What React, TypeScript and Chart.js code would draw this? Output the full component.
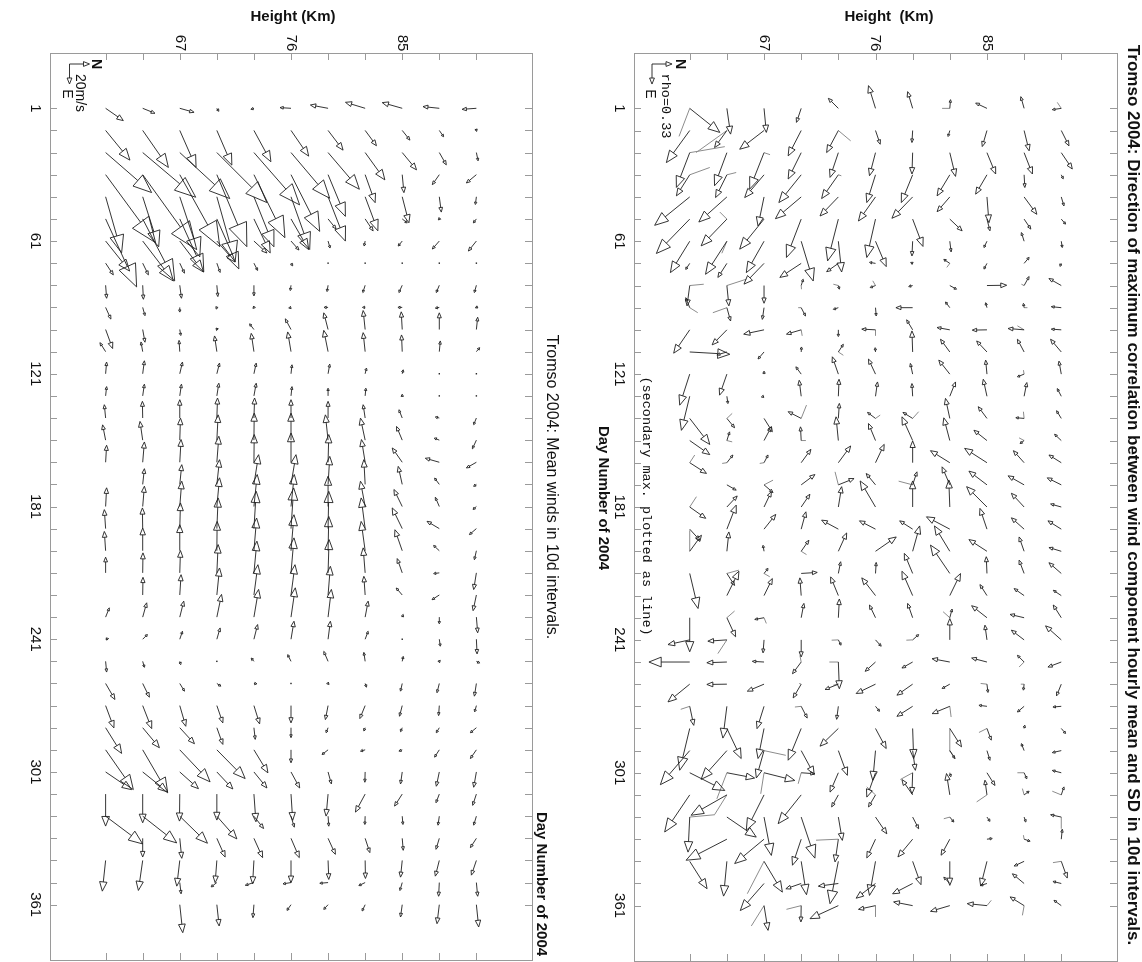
import React, { useEffect, useRef } from "react";
import { Chart, registerables } from "chart.js";
Chart.register(...registerables);

// ---------- axes ----------
const DAYS = [1, 11, 21, 31, 41, 51, 61, 71, 81, 91, 101, 111, 121, 131, 141, 151, 161, 171, 181, 191, 201, 211, 221, 231, 241, 251, 261, 271, 281, 291, 301, 311, 321, 331, 341, 351, 361];
const HEIGHTS = [61, 64, 67, 70, 73, 76, 79, 82, 85, 88, 91];
const HEIGHT_LABELS = [67, 76, 85];
const DAY_LABELS = [1, 61, 121, 181, 241, 301, 361];
const HEIGHT_RANGE = [56.5, 95.5];
const DAY_RANGE = [-24, 386];

// ---------- left panel: mean wind [north, east] (m/s) per day row, per height ----------
type V = [number, number] | null;
const MEAN_WIND: V[][] = [
  [[17.7, 12.3], [12.3, 5], [14.3, 4], [2, 3], [-3, 1], [-11, -0.7], [-17.7, -3.3], [-19.7, -6], [-20, -5.7], [-16.3, -1.7], [-14.3, 1]],
  [[24.3, 29.7], [25.7, 37], [16.3, 37], [15, 34.7], [17, 31.3], [17.7, 25.7], [15, 19.7], [11.3, 15.3], [7.7, 9.7], [4.3, 6.3], [0.3, 1]],
  [[46, 40], [53, 44.7], [50, 46], [50, 50], [45.7, 52.3], [38.7, 45.7], [31.3, 36.7], [19.7, 27.3], [14.3, 17.3], [7, 12.3], [1.7, 8.3]],
  [[50, 68], [54, 75], [40, 72], [30, 72], [31, 63], [28.7, 56.7], [17.3, 41.7], [10, 28], [1.7, 18], [-7, 10], [-10, 8.3]],
  [[16, 56], [16, 50], [20, 60], [18.3, 65], [20, 50], [18.7, 52.7], [17.3, 44.3], [12.7, 34], [6.7, 26], [2, 15.3], [-1, 7.7]],
  [[31, 68], [32, 62], [24, 53], [22, 50], [16.3, 34], [17.7, 30.7], [8, 10], [8, 12], [5, 4], [-1, 1], [-3, 4]],
  [[24, 30], [30.7, 40], [23.7, 31], [18.3, 21], [13, 12], [8, 9], [2, 7], [-1, 5], [-4, 5], [-7, 8], [-8, 10]],
  [[7.7, 11.7], [5.7, 11.7], [4.7, 10], [3.3, 9.3], [3.7, 7.3], [1.7, 2.7], [0.5, 0.7], [0.3, 0.5], [0.3, 0.3], [0.3, 0.3], [0.3, 0.3]],
  [[1, 13], [0.7, 14], [1.7, 13], [1, 11.3], [0, 10.7], [-0.7, 5.3], [-1, 6.3], [-2.3, 7.3], [-3.3, 7.3], [-3, 7.3], [-2, 7.3]],
  [[5.3, 11.7], [2.3, 8.3], [0, 4.7], [-0.7, 1.7], [-1, 1], [-2.3, 0.7], [-4, 0], [-2.7, 0], [-4.3, 0], [-4, 0.7], [-1, 0.5]],
  [[7, 19], [2.3, 12.7], [1, 6], [-0.3, 1], [-4.3, -5.7], [-5.7, -10.7], [-4.3, -16.7], [-2, -19], [-1, -17.7], [0, -16.7], [1.3, -12.3]],
  [[-5.7, -9], [-1.7, -9.7], [-0.7, -11.3], [-2.3, -15.7], [-2.7, -18.3], [-3.3, -19.7], [-4.3, -21.3], [-2, -19], [-0.7, -16.7], [1, -10.7], [3.3, -4]],
  [[1, -11.7], [1.7, -13], [2.7, -11.7], [2.7, -10.7], [2.3, -10.7], [1, -9], [1.7, -9.7], [1.3, -5.7], [1, -4], [0.5, -0.5], [0.5, -0.3]],
  [[1, -9.3], [1.7, -11.7], [1.7, -11.7], [2, -12.7], [2.3, -12.7], [1, -9.3], [0, -7.7], [0.7, -7.7], [0, -1.7], [0.3, -0.5], [0.3, 0.3]],
  [[-1.3, -13.3], [-0.3, -16.7], [0, -18.3], [0.7, -20], [0.7, -20], [0, -18.3], [0, -16.7], [-2, -13.3], [-3.3, -8.3], [-4, -1], [-2.7, 6.7]],
  [[-3, -15.3], [-2.7, -18.7], [0.7, -22], [1.3, -25.3], [0.3, -27], [0, -27], [-2.7, -25.3], [-4.7, -22], [-5.7, -13.7], [-5, -2], [-4, 8.7]],
  [[1, -17], [1.7, -20.3], [1.3, -22.7], [2, -26], [0.3, -27.7], [0, -29.3], [0.7, -27.7], [-3.7, -22.7], [-10, -14.3], [-14, -4], [-10, 5.7]],
  [null, [1.7, -15.7], [2, -19.7], [2.7, -24.7], [4.7, -29.7], [5, -29.7], [1.7, -28], [-1.3, -24.7], [-4, -18], [-4.7, -6.3], [-2.7, 2]],
  [[1, -18.7], [1.7, -20.3], [2, -25.3], [2.7, -28.7], [3.3, -32], [3.3, -32], [0, -30.3], [-4.7, -25.3], [-8.3, -17], [-4, -9.3], [-3.3, 3]],
  [[-1.3, -19], [-0.3, -20.7], [0.7, -25.7], [1.3, -30.7], [2.3, -37.3], [2.7, -40.7], [0.7, -37.3], [-4, -30.7], [-10, -20.7], [-12.3, -7.3], [-7, 6]],
  [[-1.3, -19.3], [0, -22.7], [0, -26], [0.3, -29.3], [2.7, -32.7], [3, -36], [0.7, -34.3], [-4, -29.3], [-7.3, -21], [-5.7, -5.3], [-2, 9]],
  [[0, -15.7], [0.3, -20], [0.7, -22.3], [1.3, -28.3], [3, -31.7], [3, -35], [1, -33.3], [-2, -25], [-5, -14.3], [-5.7, 0.7], [-2.7, 16.7]],
  [null, [0.3, -17.7], [1.3, -20.3], [2.7, -27], [4, -30.3], [4, -30.3], [2.3, -28.7], [-1.3, -18.7], [-6, -7], [-7.3, 4.7], [-3.3, 15.7]],
  [[3.7, -9.3], [4, -14.3], [4, -16], [4.7, -22.7], [4.7, -27.7], [4.3, -29.3], [3.3, -27.7], [3, -16], [1, -2.7], [0, 6.7], [1.3, 15.7]],
  [[3, -0.7], [4.7, -4.7], [2.7, -8], [3.3, -11.3], [3.7, -14.7], [3, -18], [2.3, -18], [3, -8], [0.3, -0.5], [1, 7], [0.7, 14.7]],
  [[1, 10.7], [1.7, 6], [1, 3.3], [-0.3, 0.7], [-2.7, -3.3], [-3.3, -6.7], [-4.3, -10], [-1.3, -9], [1, -5], [1, -1], [3.3, 1.7]],
  [[9.3, 16], [6.7, 13.7], [4.7, 7.7], [4, 2.7], [3, 0.3], [0.3, 0.3], [1, 1], [1.3, 3.7], [-1.7, 7.7], [-2.3, 9.3], [-2, 12.7]],
  [[8.3, 22.3], [9, 23], [6, 20.7], [6, 17.3], [5.7, 18.3], [0, 17.3], [-2.7, 14], [-5.3, 13], [-2.7, 10.7], [-0.7, 10], [-1.7, 6.3]],
  [[16, 25.7], [16.7, 20], [14.7, 16], [6, 16.7], [1.3, 11.7], [0, 10], [-2, 5], [-1.3, 3.3], [-1.7, 4], [-3, 5], [-6, 5]],
  [[27.7, 39.7], [25, 43], [30.3, 32], [28.3, 28.7], [14, 23], [0, 13], [-6, 4.7], [-4.7, 1.3], [-3.3, 1.3], [-4.7, 7.3], [-6, 8.7]],
  [[26, 17.7], [25, 20], [18.7, 16.7], [16, 17], [13, 16], [8.7, 16], [3.3, 12], [-0.3, 10.3], [-1.7, 12], [-3, 14.3], [-2.7, 15.3]],
  [[0, 32], [0, 28.7], [-0.3, 27], [0, 26], [2, 27.7], [1.7, 26.3], [-2, 22], [-9.7, 18], [-7.7, 12], [-3.3, 8.7], [-3.7, 11.3]],
  [[37, 27.7], [34, 26.7], [27.7, 27], [20, 22.7], [9.7, 12.3], [3.3, 11], [0.7, 10], [-0.3, 8.3], [0.7, 8.3], [-1.3, 9], [-2.7, 9]],
  [null, [0, 18.7], [2, 20], [8.3, 18.7], [8.7, 19.3], [8.3, 19.3], [7.3, 16], [4.7, 14.3], [1, 12], [-3.3, 11], [-6, 9.3]],
  [[-3.3, 30.7], [-4.3, 30], [-3, 25.7], [-1.7, 22.3], [-1.3, 23.3], [0, 22.3], [0.7, 19], [0.3, 18], [-1.7, 16.7], [-4, 15.7], [-5, 14.7]],
  [null, null, [1.3, 11.3], [-5.7, 4.3], [-8.7, 2.7], [-8, 1.3], [-8.3, 0.7], [-6.3, 3], [-2.3, 8], [-0.7, 13.7], [1.3, 13.7]],
  [null, null, [3, 28], [2.3, 21.3], [-1, 13], [-4, 5.7], [-4.3, 4.7], [-3, 6.3], [-1.7, 12.3], [-2.3, 19], [2.3, 22.3]],
];

// ---------- right panel: direction of max correlation [north, east] (scaled rho) ----------
const CORR_MAX: V[][] = [
  [[30, 24], [3.7, 25.7], [2.3, 24], [-4.7, 14], [-10, -10], [-7, -22.7], [-5, -16.7], [0.7, -8.7], [-11.3, -5.3], [-3.3, -11.7], [-9, 1.3]],
  [[-23.3, 32], [-12.3, 17], [-24.3, 18.7], [-13, 25.3], [-11.7, 22], [4.7, 13.7], [-0.7, 12], [-1.7, 6], [-4.7, 16], [5, 20.3], [7.7, 15.3]],
  [[-13.3, 34.7], [-12.3, 33], [-14.3, 36.3], [-13, 26.3], [-8.3, 24.7], [-6, 23], [-0.7, 21.3], [5.7, 23.7], [8.7, 21.3], [8.3, 21.3], [11, 16.3]],
  [[-13.3, 21], [-11.3, 22.7], [-19.3, 22.7], [-22.3, 27.7], [-16.7, 23.7], [-8.7, 27.7], [-11.3, 27.7], [-12.7, 21], [-11.3, 19.3], [0.7, 12.7], [2, 4]],
  [[-35, 28.3], [-28, 25], [-6, 29], [-25.7, 21.7], [-18.3, 19], [-17, 24], [-20.7, 21.3], [-12.7, 14.7], [2, 25.7], [12.7, 17.3], [2.7, 9]],
  [[-33.3, 34.3], [-25.7, 26.7], [-24.3, 30], [-14.7, 38.3], [-10.7, 41.7], [-8.7, 38.3], [10.3, 27.3], [12.3, 11.7], [3, 11.7], [6.7, 10], [4.3, 5]],
  [[-19.3, 31.3], [-21.3, 33], [-17.7, 31.3], [12, 39.7], [3.3, 30.7], [10.7, 25.3], [-0.7, 14.7], [1.3, 10.7], [-3, 6.3], [-2.7, -8.7], [1, 6.3]],
  [[-4, 6], [-9, 14], [-20, 20.7], [-21.3, 14], [-11.7, 8.3], [-6, -1], [-2, -1], [-6, -4], [-3, 5.7], [5, -6], [-1.3, 3]],
  [[-2.7, 20.3], [2, 20.3], [0, 17.7], [2, -6.3], [1, 3.7], [-5.3, 2], [-4, 1], [6.7, 3.7], [19.7, -0.3], [5, -9], [-12.3, -7]],
  [[-4, -10], [3.7, 13.3], [-1.7, 11.7], [4.3, 8.3], [-5, 1.7], [0.7, 8.3], [-16.7, 0], [-4.3, -5.7], [-1.3, -5], [-0.7, -4.3], [-10, -1]],
  [[-16, 23.3], [-14.7, 15], [-20.3, 4.3], [-14.7, 4.3], [0, 6.7], [-13.7, -0.7], [-6, -10], [-12.7, -2.3], [-14.7, 0.3], [-16, -1.3], [-10, -0.7]],
  [[40, 2.3], [-10, 3], [-6, 7], [0.3, -5], [5, -7.7], [-0.3, -4.3], [-0.7, -21], [-9.3, -12.7], [-10.3, -11], [-6.7, -12.7], [-10.7, -12.7]],
  [[-10, 31], [-7.3, 21], [0, -3], [-5.3, -7.3], [-6, -17.3], [-7, -15], [-2.3, -10.7], [-11, -14], [-1.3, -14], [-6.7, 2.7], [-2.3, -13]],
  [[-8.3, 34], [1, 7.3], [-2.7, 0.7], [-2, -16], [0.7, -17], [2, -14.3], [-0.7, -12.7], [5.7, -14.3], [-3.7, -17], [2.7, -13.7], [-4, -7.7]],
  [[20, 26], [7.7, 9.3], [8.3, 13.3], [-13, -6.7], [1, -15], [-8, -6], [-9.7, -6], [-4.3, -20], [-8.7, -11.7], [-8.3, -0.7], [-4.7, -7.7]],
  [[20, 14], [2.7, -8.7], [7.3, -13.7], [-0.7, -13.7], [-2.3, -23.7], [-7, -17], [-10.7, -23.7], [-6, -22.7], [-13, -10.3], [-4, 3], [-6.7, -6.3]],
  [[16.7, 10.7], [6, -7.7], [4, -7.7], [9.7, -13.3], [12.3, -16.7], [8.7, -18.3], [0, -21.7], [-19.3, -12], [-22.3, -14.3], [-10.7, -12], [-12.3, -7.7]],
  [null, [9.3, 5.3], [9, 7.7], [13.7, -10.3], [15.7, -6.3], [-9.3, -11.3], [4.3, -13], [-7.7, -18], [-18, -13.7], [-16, -9], [-14, -7]],
  [[16, 11.3], [10.3, -11], [7.3, -15.3], [8.7, -12.7], [3.3, -20.3], [-15.3, -26], [0, -26], [-1, -27], [-20.3, -20.3], [-12.7, -13.7], [-10.7, -3]],
  [[10, 11], [9.3, -24], [11.7, -14.7], [4.7, -17.3], [-16.7, -9], [-16, -8.3], [-13, -8.3], [-23.3, -12.3], [-7, -20.7], [-12.7, -11.3], [-13.3, -8.3]],
  [[11.7, -16], [2, -19.3], [-1, -6], [7.7, -11], [8.3, -18.3], [20.7, -14.3], [7, -25.3], [-15.3, -25.3], [-18, -11.7], [-5, -14.3], [-12.3, -3.7]],
  [[8.3, 35], [7.7, 12], [4, -5], [16, -1], [2.3, -11.7], [0.7, -11], [-8.3, -20], [-19.3, -28.3], [-0.7, -16.7], [-5, -13.3], [-12.3, -10.7]],
  [null, [12, -24.3], [8.3, -17], [-1.3, -17.7], [-7.7, -18.7], [-13.7, -17.7], [-10.7, -24.3], [10.7, -22], [-7, -11], [-10, -7], [-8, -5.3]],
  [[0, 34], [8.7, 19], [-9.3, 1.7], [2.7, -14.3], [1, -18.7], [-6, -12.7], [-5, -14.3], [2.3, -8.7], [-15.3, -12], [-14, -3.3], [-8, -12.7]],
  [[-21.7, 4.7], [-19, 1.3], [-1, 13], [0, 17], [2.7, 5.3], [5.7, 6.3], [6, -5.3], [0, -21.3], [-2, -14.7], [-12.7, -9.7], [-15.7, -14]],
  [[-40.7, 0], [-20, 0.7], [-11.7, -0.7], [-8.7, 11.7], [1, 26.7], [-10.3, 9.3], [-10.7, 6], [-17.7, -3.3], [-15.3, -4], [-6.7, -6.7], [-13.3, 5]],
  [[-21.7, 17.7], [-20, 0.3], [-16.7, 7], [-8, 13.7], [-13.3, 5.3], [-19.3, 9.3], [-15.7, 11], [-7.7, 4.3], [1, 8.3], [-0.7, 6], [-4.7, 11.7]],
  [[4, 19], [-4, 31.7], [-7, 22.3], [6, 11.7], [-1.7, 13], [4, 5], [-15.7, 10], [-17.7, 7.3], [-8, -1], [-6.7, 5.7], [-8.3, 0.7]],
  [[-10, 41.7], [14.3, 30], [-6, 30], [-13, 31.7], [-18.3, 17.7], [10.7, 20], [1, 30], [11.7, 18.3], [4.3, 11.7], [0.7, -3.3], [4.3, 5]],
  [[-29.3, 34], [-25.7, 28.7], [-7.7, 27.3], [13, 24], [9, 24.7], [-2.7, 29.7], [2.7, 19.7], [5, 8], [3, 9.7], [-2.7, -7], [-9, 2]],
  [[35, 17.7], [27.7, 5.3], [30.7, 7.7], [13.7, 1], [-8.3, 19.3], [-8.7, 24.3], [-0.7, 21], [1, 4], [8, 12.7], [2.7, 6], [-9, -2.3]],
  [[-25, 37], [-35.7, 20.3], [-17.7, 35.3], [-23, 28.7], [-6.7, 12], [-7, 12], [-10.7, -15.3], [-3.3, -21.3], [-2, -14.7], [5, -3.7], [2.7, -8]],
  [[-1.7, 35], [29.3, 20], [7.3, 38.3], [13.7, 41], [4, 23.3], [11.3, 16.7], [6, 11.7], [4, 5], [3, 4.3], [1.7, 5], [-10.7, -2.3]],
  [null, [-40.7, 21], [-29.3, 24.3], [-8.7, 26], [-3.3, 22.7], [-8.7, 18.7], [-14.7, 17.7], [-8.7, 16], [5.3, -0.7], [6, 2], [1, -10]],
  [[17.3, 27.3], [-3.3, 34.7], [18.3, 30.7], [5.3, 33.3], [-8.3, 42.3], [-6, 34], [8.3, 23.3], [0, 24], [-6.3, 24.7], [-10, 4.7], [6, 16.7]],
  [null, null, [-23.7, 27], [-15.3, 5.3], [-20, 2.7], [-19.3, 14.7], [-20, 10.3], [-6, -6.3], [-6.3, 2], [-11.7, -9.7], [-8.3, -2]],
  [null, null, [4, 24.7], [-0.3, 16.3], [-28.3, 13], [-17, 3.7], [-19, -3.7], [-19.3, 5.7], [-19.7, -2], [-14, -8.7], [-7.3, -5.3]],
];

// secondary maxima: [day, height, north, east]
const SECONDARY: [number, number, number, number][] = [
  [1, 61, -10.7, 28], [1, 82, -7.7, 0], [1, 91, -4, -6],
  [11, 64, -30.7, 22], [11, 73, 12.3, 10.3],
  [21, 61, 35, -6], [21, 67, 6, 2],
  [31, 61, 20, -7.3], [31, 64, 9.3, -2.3], [31, 73, 3, 1],
  [51, 64, -7, -7], [61, 64, -5, 12], [71, 82, -3, 4],
  [81, 61, 14, -1.3], [81, 64, 19.3, -6.3], [81, 70, 0.3, 3.7], [81, 73, -5, -1.3], [81, 76, -2.7, -4.7], [81, 88, -2.7, -1.3],
  [91, 61, 8, 5], [91, 64, -14, 5], [91, 70, -3, 0], [91, 88, 3.3, 0],
  [101, 70, 1, 6], [101, 76, 0, 6], [101, 88, -6.7, -4],
  [111, 73, 5, 3.3], [121, 88, -0.7, -4],
  [141, 64, 5.3, -5], [141, 70, 5.3, -13.3], [141, 76, 4.7, -3.3], [141, 79, 6, -6.7], [141, 88, -0.7, -6.7],
  [151, 64, 5.3, 1.3], [151, 70, 4.7, 0], [151, 88, -5, -2.7],
  [161, 61, 5, -7.7], [161, 64, -4.7, 0.7], [161, 67, -4.3, 0.7],
  [171, 67, 9, -4.7], [171, 73, -3.3, -13], [171, 79, -14, -3.7],
  [181, 61, 6.7, -10.3],
  [201, 61, 0, -21], [201, 70, 5.3, 3.3],
  [211, 64, 12, -3.3], [211, 67, 5.7, 3.3],
  [231, 64, 7.7, -6.7], [231, 67, 2.3, 5.7], [231, 82, -6.7, -6],
  [241, 64, -9, 13.7], [241, 73, -6.7, 0.3], [241, 79, -6.3, 0.3],
  [251, 70, -1.3, -6.7], [251, 73, -9, 0], [251, 88, -5, 5],
  [261, 70, -2, -0.7], [261, 73, -5, 1], [261, 85, -6.3, -0.7], [261, 88, -3.3, 0],
  [271, 61, -9, 3], [271, 70, -6.3, 0.7], [271, 82, 1.3, 10.7],
  [281, 82, 0, 23], [281, 85, -8, 4],
  [291, 67, 21.7, 4.7], [291, 82, 5.7, 8],
  [301, 64, -10, 26], [301, 67, -3.3, 21], [301, 70, -3, 11], [301, 79, -12.3, 6.7], [301, 88, -6.7, 0],
  [311, 64, -12.3, 19.7], [311, 76, -8.7, -8], [311, 85, -10.3, 7], [311, 88, -1.7, -6.3], [311, 91, -9, -3.7],
  [321, 61, 25, -2.3], [321, 82, -6, 1.7], [321, 91, 0, 11.7],
  [331, 73, -22.3, 1], [331, 88, -0.7, -4],
  [341, 67, -16.7, 32.3], [341, 91, -8.3, 1.3],
  [361, 67, -12.7, 20.3], [361, 70, -14.7, 3.7], [361, 76, 0, 11.3], [361, 85, 4.3, -5.3], [361, 88, -1.7, 9.7],
];

const LEGEND_VALUE = 20; // length of legend arrows in data units
const KM_PER_UNIT = 1 / 12.36; // vector unit expressed along height axis

// ---------- styling ----------
const SANS = '"Liberation Sans", Arial, Helvetica, sans-serif';
const MONO = '"Liberation Mono", "DejaVu Sans Mono", monospace';
const FRAME = "#9a9a9a";
const INK = "#1e1e1e";
const SECOND_INK = "#8c8c8c";

type Txt = { text: string; x: number; y: number; font: string; rot?: boolean };
type PanelCfg = {
  id: string;
  offsetX: number;
  width: number;
  padding: { left: number; right: number; top: number; bottom: number };
  main: V[][];
  secondary: [number, number, number, number][];
  texts: Txt[];
  legendCorner: [number, number];
};

function drawArrow(ctx: CanvasRenderingContext2D, x0: number, y0: number, dx: number, dy: number, head: boolean) {
  const L = Math.hypot(dx, dy);
  if (L < 1) {
    ctx.fillRect(x0 - 0.7, y0 - 0.7, 1.4, 1.4);
    return;
  }
  const x1 = x0 + dx, y1 = y0 + dy;
  ctx.beginPath();
  if (!head) {
    ctx.moveTo(x0, y0);
    ctx.lineTo(x1, y1);
    ctx.stroke();
    return;
  }
  const ux = dx / L, uy = dy / L;
  const hl = Math.max(2.2, 0.3 * L), hw = Math.max(1.2, 0.12 * L);
  const bx = x1 - ux * hl, by = y1 - uy * hl;
  ctx.moveTo(x0, y0);
  ctx.lineTo(bx, by);
  ctx.moveTo(x1, y1);
  ctx.lineTo(bx - uy * hw, by + ux * hw);
  ctx.lineTo(bx + uy * hw, by - ux * hw);
  ctx.closePath();
  ctx.stroke();
}

function drawText(ctx: CanvasRenderingContext2D, t: Txt, offsetX: number) {
  ctx.save();
  ctx.font = t.font;
  ctx.fillStyle = "#111";
  ctx.textAlign = "center";
  ctx.textBaseline = "middle";
  ctx.translate(t.x - offsetX, t.y);
  if (t.rot) ctx.rotate(Math.PI / 2);
  ctx.fillText(t.text, 0, 0);
  ctx.restore();
}

function buildPanel(canvas: HTMLCanvasElement, cfg: PanelCfg) {
  const mainPts: { x: number; y: number; n: number; e: number }[] = [];
  DAYS.forEach((d, i) =>
    HEIGHTS.forEach((h, j) => {
      const v = cfg.main[i][j];
      if (v) mainPts.push({ x: h, y: d, n: v[0], e: v[1] });
    })
  );
  const secPts = cfg.secondary.map(([d, h, n, e]) => ({ x: h, y: d, n, e }));

  const plugin = {
    id: "quiver-" + cfg.id,
    afterDraw(chart: any) {
      const ctx: CanvasRenderingContext2D = chart.ctx;
      const ca = chart.chartArea;
      const xs = chart.scales.x, ys = chart.scales.y;
      const unit = xs.getPixelForValue(HEIGHTS[0] + KM_PER_UNIT) - xs.getPixelForValue(HEIGHTS[0]);
      ctx.save();
      // frame + inward ticks
      ctx.strokeStyle = FRAME;
      ctx.lineWidth = 1;
      ctx.strokeRect(Math.round(ca.left) + 0.5, Math.round(ca.top) + 0.5, Math.round(ca.right - ca.left), Math.round(ca.bottom - ca.top));
      ctx.beginPath();
      DAYS.forEach((d) => {
        const py = Math.round(ys.getPixelForValue(d)) + 0.5;
        ctx.moveTo(ca.left, py); ctx.lineTo(ca.left + 7, py);
        ctx.moveTo(ca.right, py); ctx.lineTo(ca.right - 7, py);
      });
      HEIGHTS.forEach((h) => {
        const px = Math.round(xs.getPixelForValue(h)) + 0.5;
        ctx.moveTo(px, ca.top); ctx.lineTo(px, ca.top + 7);
        ctx.moveTo(px, ca.bottom); ctx.lineTo(px, ca.bottom - 7);
      });
      ctx.stroke();

      // secondary lines
      ctx.strokeStyle = SECOND_INK;
      const secMeta = chart.getDatasetMeta(1);
      secMeta.data.forEach((el: any, i: number) => {
        const p = secPts[i];
        drawArrow(ctx, el.x, el.y, p.n * unit, p.e * unit, false);
      });
      // main arrows
      ctx.strokeStyle = INK;
      ctx.fillStyle = INK;
      ctx.lineWidth = 0.9;
      const meta = chart.getDatasetMeta(0);
      meta.data.forEach((el: any, i: number) => {
        const p = mainPts[i];
        drawArrow(ctx, el.x, el.y, p.n * unit, p.e * unit, true);
      });

      // legend (N to the right, E downward)
      const [lx, ly] = cfg.legendCorner;
      const cx = lx - cfg.offsetX;
      drawArrow(ctx, cx, ly, LEGEND_VALUE * unit, 0, true);
      drawArrow(ctx, cx, ly, 0, LEGEND_VALUE * unit, true);

      // tick labels
      ctx.fillStyle = "#111";
      HEIGHT_LABELS.forEach((h) =>
        drawText(ctx, { text: String(h), x: xs.getPixelForValue(h) + cfg.offsetX, y: ca.top - 10, font: `15px ${SANS}`, rot: true }, cfg.offsetX)
      );
      DAY_LABELS.forEach((d) =>
        drawText(ctx, { text: String(d), x: ca.left - 15 + cfg.offsetX, y: ys.getPixelForValue(d), font: `15px ${SANS}`, rot: true }, cfg.offsetX)
      );
      cfg.texts.forEach((t) => drawText(ctx, t, cfg.offsetX));
      ctx.restore();
    },
  };

  return new Chart(canvas, {
    type: "scatter",
    data: {
      datasets: [
        { data: mainPts.map((p) => ({ x: p.x, y: p.y })), pointRadius: 0, showLine: false },
        { data: secPts.map((p) => ({ x: p.x, y: p.y })), pointRadius: 0, showLine: false },
      ],
    },
    options: {
      animation: false,
      responsive: false,
      maintainAspectRatio: false,
      events: [],
      layout: { padding: cfg.padding },
      scales: {
        x: { type: "linear", min: HEIGHT_RANGE[0], max: HEIGHT_RANGE[1], display: false },
        y: { type: "linear", min: DAY_RANGE[0], max: DAY_RANGE[1], reverse: true, display: false },
      },
      plugins: { legend: { display: false }, tooltip: { enabled: false }, title: { display: false } },
    },
    plugins: [plugin],
  } as any);
}

const LEFT: PanelCfg = {
  id: "mean",
  offsetX: 0,
  width: 585,
  padding: { left: 50, right: 53, top: 53, bottom: 2 },
  main: MEAN_WIND,
  secondary: [],
  legendCorner: [69.5, 64],
  texts: [
    { text: "Height (Km)", x: 293, y: 17, font: `bold 15px ${SANS}` },
    { text: "N", x: 96, y: 64, font: `bold 14px ${SANS}`, rot: true },
    { text: "E", x: 67, y: 94, font: `14px ${SANS}`, rot: true },
    { text: "20m/s", x: 79.5, y: 93, font: `14px ${SANS}`, rot: true },
    { text: "Tromso 2004: Mean winds in 10d intervals.", x: 551, y: 487, font: `16px ${SANS}`, rot: true },
    { text: "Day Number of 2004", x: 541, y: 884, font: `bold 15px ${SANS}`, rot: true },
  ],
};

const RIGHT: PanelCfg = {
  id: "corr",
  offsetX: 585,
  width: 557,
  padding: { left: 49, right: 25, top: 53, bottom: 1 },
  main: CORR_MAX,
  secondary: SECONDARY,
  legendCorner: [652, 64],
  texts: [
    { text: "Height  (Km)", x: 889, y: 17, font: `bold 15px ${SANS}` },
    { text: "N", x: 680, y: 64, font: `bold 14px ${SANS}`, rot: true },
    { text: "E", x: 650, y: 94, font: `14px ${SANS}`, rot: true },
    { text: "rho=0.33", x: 665.5, y: 106, font: `13.5px ${MONO}`, rot: true },
    { text: "(secondary max. plotted as line)", x: 647, y: 506, font: `13.5px ${MONO}`, rot: true },
    { text: "Day Number of 2004", x: 603, y: 498, font: `bold 15px ${SANS}`, rot: true },
    {
      text: "Tromso 2004: Direction of maximum correlation between wind component hourly mean and SD in 10d intervals.",
      x: 1133, y: 495, font: `bold 17px ${SANS}`, rot: true,
    },
  ],
};

export default function App() {
  const leftRef = useRef<HTMLCanvasElement>(null);
  const rightRef = useRef<HTMLCanvasElement>(null);
  useEffect(() => {
    document.body.style.margin = "0";
    const a = buildPanel(leftRef.current!, LEFT);
    const b = buildPanel(rightRef.current!, RIGHT);
    return () => {
      a.destroy();
      b.destroy();
    };
  }, []);
  return (
    <div style={{ position: "relative", width: 1142, height: 962, background: "#fff", overflow: "hidden" }}>
      <canvas ref={leftRef} width={LEFT.width} height={962} style={{ position: "absolute", left: 0, top: 0, width: LEFT.width, height: 962 }} />
      <canvas ref={rightRef} width={RIGHT.width} height={962} style={{ position: "absolute", left: RIGHT.offsetX, top: 0, width: RIGHT.width, height: 962 }} />
    </div>
  );
}
